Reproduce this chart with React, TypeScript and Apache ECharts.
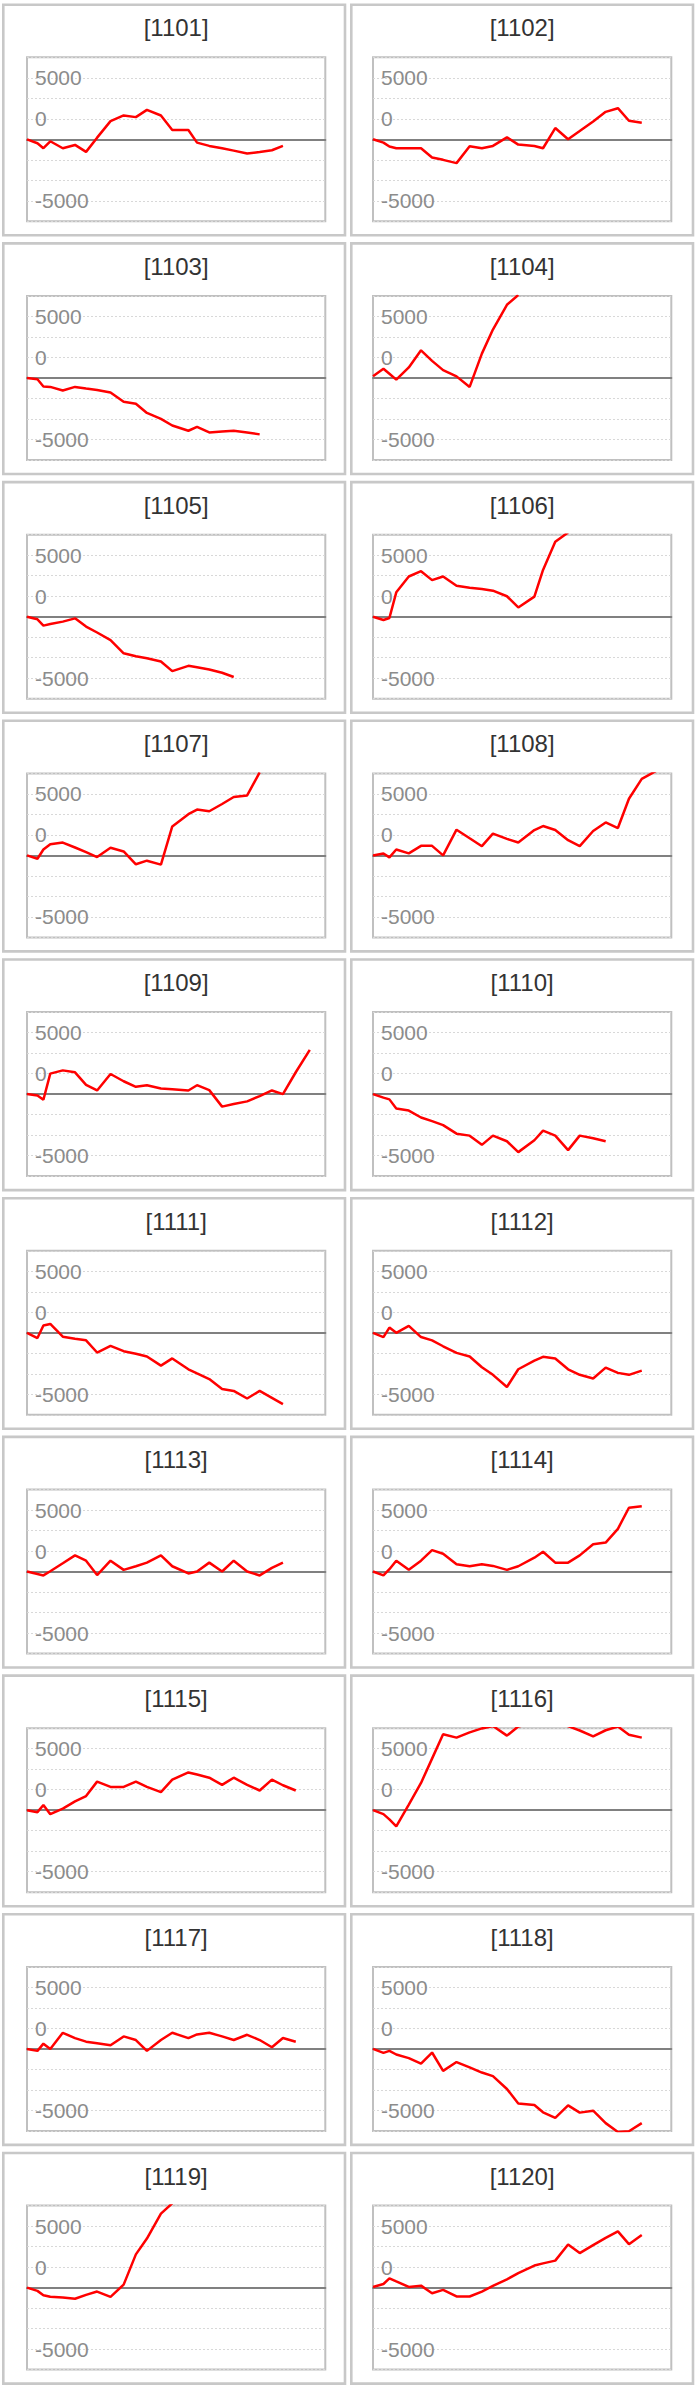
import React, { useEffect, useRef } from "react";
import * as echarts from "echarts";

// shared x positions (percent of the time span) of the data points
const X_POS = [0, 3.5, 5.5, 7.8, 12.0, 16.1, 19.8, 23.5, 28.0, 32.4, 36.5, 40.2, 44.9, 48.7, 54.1, 57.0, 61.1, 65.4, 69.3, 73.8, 78.0, 82.1, 85.8, 90.1, 94.8];

const CODES = ["1101", "1102", "1103", "1104", "1105", "1106", "1107", "1108", "1109", "1110", "1111", "1112", "1113", "1114", "1115", "1116", "1117", "1118", "1119", "1120"];

const s1101 = [0, -323, -726, -161, -726, -457, -1022, 134, 1480, 1937, 1802, 2394, 1937, 753, 753, -269, -538, -720, -920, -1157, -1030, -888, -538];
const s1102 = [0, -269, -592, -726, -726, -726, -1480, -1670, -1937, -565, -726, -538, 161, -430, -538, -726, 915, 0, 672, 1453, 2233, 2529, 1506, 1345];
const s1103 = [0, -107, -697, -724, -1018, -724, -858, -980, -1179, -1930, -2090, -2841, -3323, -3859, -4288, -3966, -4422, -4350, -4288, -4422, -4583];
const s1104 = [150, 750, 340, -134, 858, 2251, 1394, 643, 134, -724, 1983, 3940, 5950, 6750];
const s1105 = [0, -214, -724, -600, -400, -134, -804, -1286, -1903, -2975, -3216, -3377, -3645, -4422, -3993, -4110, -4288, -4556, -4904];
const s1106 = [0, -268, -107, 1983, 3270, 3698, 2975, 3270, 2519, 2358, 2250, 2117, 1662, 750, 1635, 3806, 6084, 6850];
const s1107 = [0, -268, 482, 911, 1045, 643, 268, -134, 616, 322, -724, -429, -750, 2358, 3350, 3725, 3591, 4181, 4744, 4878, 6750];
const s1108 = [0, 161, -161, 482, 161, 777, 777, 0, 2090, 1394, 750, 1769, 1340, 1045, 2064, 2385, 2064, 1233, 750, 1983, 2680, 2224, 4610, 6218, 6850];
const s1109 = [0, -107, -456, 1662, 1930, 1769, 750, 295, 1635, 1045, 590, 724, 456, 402, 295, 724, 322, -1018, -804, -590, -161, 295, 0, 1776, 3591];
const s1110 = [0, -290, -429, -1179, -1340, -1903, -2198, -2519, -3216, -3377, -4127, -3377, -3832, -4717, -3752, -2975, -3377, -4556, -3377, -3591, -3832];
const s1111 = [0, -427, 587, 721, -320, -481, -614, -1602, -1068, -1495, -1709, -1922, -2670, -2083, -2964, -3300, -3765, -4566, -4726, -5340, -4726, -5287, -5794];
const s1112 = [0, -347, 427, 0, 561, -347, -614, -1095, -1629, -1922, -2803, -3417, -4405, -2964, -2270, -1949, -2083, -2964, -3417, -3711, -2830, -3257, -3417, -3070];
const s1113 = [0, -210, -320, 20, 668, 1308, 881, -294, 881, 134, 427, 721, 1308, 427, -160, 0, 721, 0, 881, 0, -320, 294, 721];
const s1114 = [0, -320, 190, 881, 134, 881, 1735, 1442, 587, 427, 587, 454, 134, 427, 1121, 1602, 721, 721, 1308, 2216, 2350, 3471, 5180, 5313];
const s1115 = [0, -160, 427, -320, 134, 721, 1148, 2323, 1896, 1896, 2323, 1896, 1469, 2483, 3071, 2900, 2643, 2056, 2643, 2056, 1602, 2483, 2029, 1602];
const s1116 = [0, -320, -750, -1308, 454, 2216, 4192, 6168, 5901, 6328, 6650, 6850, 6061, 6810, 7100, 7300, 7200, 6830, 6480, 6008, 6500, 6800, 6141, 5901];
const s1117 = [0, -160, 427, 0, 1308, 881, 587, 454, 294, 1015, 721, -160, 721, 1308, 881, 1175, 1308, 1015, 721, 1148, 721, 134, 881, 587];
const s1118 = [0, -320, -160, -454, -748, -1202, -294, -1789, -1068, -1495, -1922, -2216, -3257, -4432, -4566, -5153, -5607, -4593, -5180, -5020, -6035, -6750, -6700, -6035];
const s1119 = [0, -267, -615, -749, -802, -909, -588, -321, -749, 241, 2701, 3985, 6016, 6850];
const s1120 = [50, 294, 749, 500, 53, 160, -455, -187, -722, -722, -321, 134, 669, 1177, 1792, 1970, 2193, 3503, 2808, 3450, 4039, 4574, 3530, 4279];

const SERIES_VALUES = [s1101, s1102, s1103, s1104, s1105, s1106, s1107, s1108, s1109, s1110, s1111, s1112, s1113, s1114, s1115, s1116, s1117, s1118, s1119, s1120];

// y tick labels as they appear in the reference (by tick index from the bottom)
const Y_TICK_LABELS: Record<number, string> = { 1: "-5000", 5: "0", 7: "5000" };

const W = 698;
const H = 2387;
const ROW_PITCH = 238.7;
const PANEL_TOP = 4.7;
const PANEL_LEFT = [3.3, 351.3];
const PANEL_W = 341.7;
const PANEL_H = 230.6;
const GRID_LEFT = [27, 373];
const GRID_TOP_OFF = 52.6;
const GRID_W = 298.3;
const GRID_H = 164;
const Y_MAX = 20000 / 3;
const Y_STEP = 5000 / 3;

export default function App() {
  const ref = useRef<HTMLDivElement>(null);
  useEffect(() => {
    if (!ref.current) return;
    const chart = echarts.init(ref.current, undefined, { renderer: "svg" });
    const grids: any[] = [];
    const xAxes: any[] = [];
    const yAxes: any[] = [];
    const series: any[] = [];
    const graphics: any[] = [];
    CODES.forEach((code, k) => {
      const r = Math.floor(k / 2);
      const c = k % 2;
      const pTop = PANEL_TOP + r * ROW_PITCH;
      graphics.push({
        type: "rect",
        shape: { x: PANEL_LEFT[c], y: pTop, width: PANEL_W, height: PANEL_H },
        style: { fill: "none", stroke: "#c8c8c8", lineWidth: 2.6 },
        silent: true,
      });
      graphics.push({
        type: "text",
        x: GRID_LEFT[c] + GRID_W / 2,
        y: pTop + 23,
        style: {
          text: "[" + code + "]",
          textAlign: "center",
          textVerticalAlign: "middle",
          fontSize: 24,
          fontFamily: "Liberation Sans",
          fill: "#333333",
        },
        silent: true,
      });
      grids.push({
        left: GRID_LEFT[c],
        top: pTop + GRID_TOP_OFF,
        width: GRID_W,
        height: GRID_H,
        show: true,
        borderColor: "#c0c0c0",
        borderWidth: 2,
        backgroundColor: "transparent",
      });
      xAxes.push({
        gridIndex: k,
        type: "value",
        min: 0,
        max: 100,
        axisLine: { onZero: true, lineStyle: { color: "#808080", width: 2 } },
        axisTick: { show: false },
        axisLabel: { show: false },
        splitLine: { show: false },
      });
      yAxes.push({
        gridIndex: k,
        type: "value",
        min: -Y_MAX,
        max: Y_MAX,
        interval: Y_STEP,
        axisLine: { show: false },
        axisTick: { show: false },
        axisLabel: {
          inside: true,
          margin: 8,
          fontSize: 21,
          fontFamily: "Liberation Sans",
          color: "#8c8c8c",
          padding: [4, 0, 0, 0],
          formatter: (v: number) => {
            const idx = Math.round((v + Y_MAX) / Y_STEP);
            return Y_TICK_LABELS[idx] ?? "";
          },
        },
        splitLine: { lineStyle: { color: "#d8d8d8", width: 1, type: [2, 2] } },
      });
      const vals = SERIES_VALUES[k];
      series.push({
        type: "line",
        xAxisIndex: k,
        yAxisIndex: k,
        data: vals.map((v, i) => [X_POS[i], v]),
        symbol: "none",
        showSymbol: false,
        clip: true,
        silent: true,
        lineStyle: { color: "#ff0000", width: 2.5 },
        itemStyle: { color: "#ff0000" },
      });
    });
    chart.setOption({
      animation: false,
      backgroundColor: "#ffffff",
      grid: grids,
      xAxis: xAxes,
      yAxis: yAxes,
      series,
      graphic: graphics,
    });
    return () => chart.dispose();
  }, []);
  return (
    <div
      ref={ref}
      style={{ position: "absolute", left: 0, top: 0, width: W, height: H }}
    />
  );
}
